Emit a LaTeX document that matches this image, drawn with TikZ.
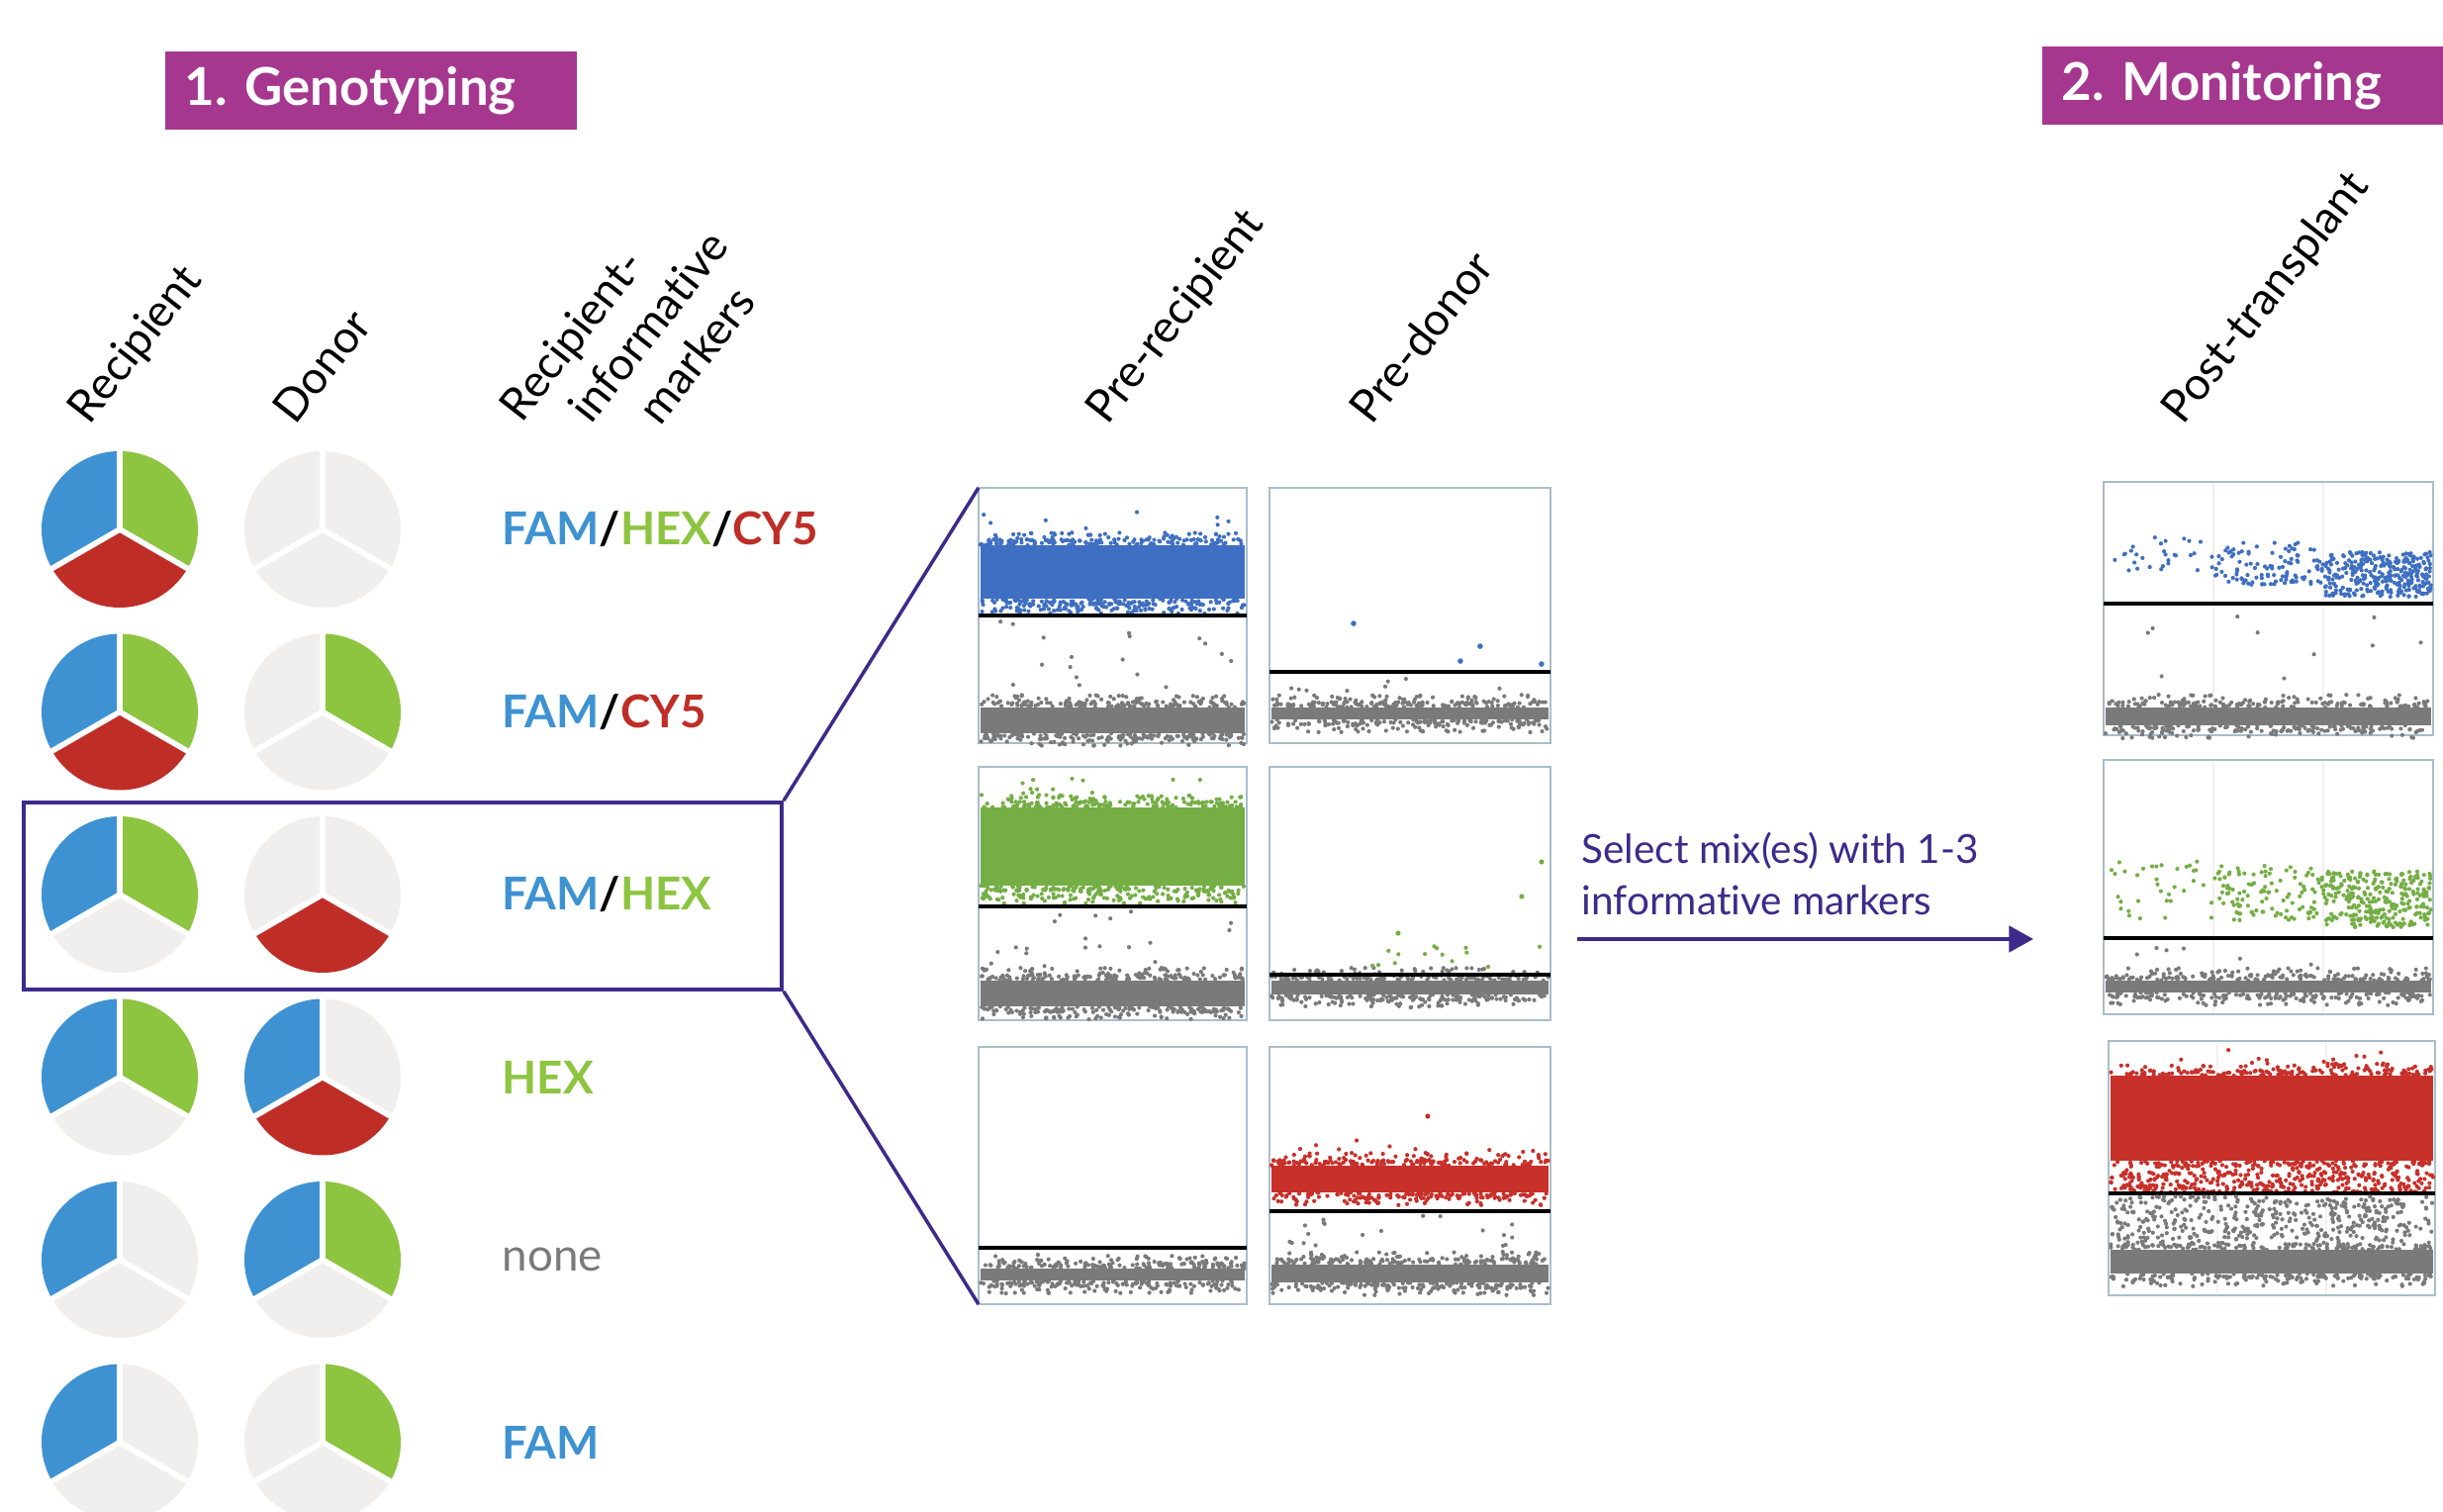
\documentclass[tikz,border=0pt]{standalone}
\usepackage{fontspec}
\setmainfont{Lato}[Ligatures=NoCommon]
\usetikzlibrary{arrows.meta}

\definecolor{famblue}{HTML}{3E92D2}
\definecolor{hexgreen}{HTML}{8DC440}
\definecolor{cyred}{HTML}{BE2E27}
\definecolor{emptyslice}{HTML}{F0EFED}
\definecolor{stepmag}{HTML}{A6378F}
\definecolor{selpurple}{HTML}{3D2A8A}
\definecolor{plotedge}{HTML}{A8BDCB}
\definecolor{dotblue}{HTML}{3F6FC2}
\definecolor{dotgreen}{HTML}{74AE45}
\definecolor{dotred}{HTML}{C8302A}
\definecolor{dotgray}{HTML}{7A7A7A}

% pie: x, y, left, right, bottom slice
\newcommand{\genopie}[5]{%
  \fill[#3] (#1,#2) -- ++(90:79) arc[start angle=90, end angle=210, radius=79] -- cycle;
  \fill[#4] (#1,#2) -- ++(-30:79) arc[start angle=-30, end angle=90, radius=79] -- cycle;
  \fill[#5] (#1,#2) -- ++(210:79) arc[start angle=210, end angle=330, radius=79] -- cycle;
  \draw[white, line width=1.6pt] (#1,#2) -- ++(90:81) (#1,#2) -- ++(210:81) (#1,#2) -- ++(330:81);
}
% random droplets: x0, x1, y0, y1, count, colour
\newcommand{\scat}[6]{%
  \foreach \k in {1,...,#5}{%
    \pgfmathsetmacro{\scx}{#1+rnd*(#2-#1)}%
    \pgfmathsetmacro{\scy}{#3+rnd*(#4-#3)}%
    \fill[#6] (\scx,\scy) circle[radius=2.1];}}
% dense cluster with ragged edges
\newcommand{\band}[5]{%
  \fill[#5] (#1,#3) rectangle (#2,#4);
  \scat{#1}{#2}{#4}{(#4+6)}{120}{#5}
  \scat{#1}{#2}{(#4+5)}{(#4+13)}{50}{#5}
  \scat{#1}{#2}{(#3-6)}{#3}{120}{#5}
  \scat{#1}{#2}{(#3-13)}{(#3-5)}{50}{#5}}

\begin{document}
\begin{tikzpicture}[x=0.01cm, y=0.01cm,
  stepbox/.style={fill=stepmag, text=white, font=\bfseries\fontsize{15}{18}\selectfont,
    inner xsep=0.2cm, minimum height=0.79cm, align=left},
  colhead/.style={rotate=52, anchor=base west, inner sep=0, font=\fontsize{13}{16}\selectfont},
  marker/.style={anchor=west, inner sep=0, font=\bfseries\fontsize{13}{16}\selectfont},
  plotframe/.style={draw=plotedge, line width=0.6pt, inner sep=0, outer sep=0},
  thresh/.style={black, line width=0.9pt},
  selline/.style={draw=selpurple, line width=1pt},
  seltext/.style={text=selpurple, align=left, inner sep=0, anchor=south west,
    font=\fontsize{11.5}{15}\selectfont}]
\pgfmathsetseed{7}
\fill[white] (0,0) rectangle (2469,1528);
\useasboundingbox (0,0) rectangle (2469,1528);

% headings
\node[stepbox, text width=3.76cm] (gen) at (375,1436.5) {1.\ Genotyping};
\node[stepbox, text width=4.2cm, anchor=west] (mon) at (2063,1441.5) {2.\ Monitoring};

\node[colhead] (hdrec) at (90,1097) {Recipient};
\node[colhead] (hddon) at (298,1097) {Donor};
\node[colhead, anchor=north west, align=left] (hdmark) at (500,1120)
  {Recipient-\\\hspace*{0.42cm}informative\\\hspace*{0.84cm}markers};
\node[colhead] (hdprer) at (1119,1097) {Pre-recipient};
\node[colhead] (hdpred) at (1386,1097) {Pre-donor};
\node[colhead] (hdpost) at (2206,1097) {Post-transplant};

% genotypes
\foreach \y/\l/\r/\b in {993/famblue/hexgreen/cyred, 808.5/famblue/hexgreen/cyred,
    624/famblue/hexgreen/emptyslice, 439.5/famblue/hexgreen/emptyslice,
    255/famblue/emptyslice/emptyslice, 70.5/famblue/emptyslice/emptyslice}
  \genopie{121}{\y}{\l}{\r}{\b};
\foreach \y/\l/\r/\b in {993/emptyslice/emptyslice/emptyslice, 808.5/emptyslice/hexgreen/emptyslice,
    624/emptyslice/emptyslice/cyred, 439.5/famblue/emptyslice/cyred,
    255/famblue/hexgreen/emptyslice, 70.5/emptyslice/hexgreen/emptyslice}
  \genopie{326}{\y}{\l}{\r}{\b};

\node[marker] (mk1) at (507,993) {\textcolor{famblue}{FAM}/\textcolor{hexgreen}{HEX}/\textcolor{cyred}{CY5}};
\node[marker] (mk2) at (507,808.5) {\textcolor{famblue}{FAM}/\textcolor{cyred}{CY5}};
\node[marker] (mk3) at (507,624) {\textcolor{famblue}{FAM}/\textcolor{hexgreen}{HEX}};
\node[marker, text=hexgreen] (mk4) at (507,439.5) {HEX};
\node[marker, text=dotgray, font=\fontsize{13}{16}\selectfont] (mk5) at (507,255) {none};
\node[marker, text=famblue] (mk6) at (507,70.5) {FAM};

\node[selline, minimum width=7.66cm, minimum height=1.89cm] (sel) at (407,622.5) {};

% pre-transplant plots
\node[plotframe, minimum width=2.71cm, minimum height=2.58cm] (pA) at (1124.5,906) {};
\node[plotframe, minimum width=2.84cm, minimum height=2.58cm] (pB) at (1425,906) {};
\node[plotframe, minimum width=2.71cm, minimum height=2.56cm] (pC) at (1124.5,625) {};
\node[plotframe, minimum width=2.84cm, minimum height=2.56cm] (pD) at (1425,625) {};
\node[plotframe, minimum width=2.71cm, minimum height=2.60cm] (pE) at (1124.5,340) {};
\node[plotframe, minimum width=2.84cm, minimum height=2.60cm] (pF) at (1425,340) {};

\begin{scope}[shift={(pA.south west)}]
  \band{2}{269}{146}{200}{dotblue}
  \scat{2}{269}{131}{140}{60}{dotblue}
  \scat{5}{265}{212}{235}{10}{dotblue}
  \draw[thresh] (0,129) -- (271,129);
  \scat{10}{260}{52}{125}{18}{dotgray}
  \band{2}{269}{10}{36}{dotgray}
\end{scope}
\begin{scope}[shift={(pB.south west)}]
  \draw[thresh] (0,72) -- (284,72);
  \band{2}{282}{24}{36}{dotgray}
  \scat{20}{270}{52}{66}{8}{dotgray}
  \foreach \dx/\dy in {85/121, 213/98, 193/83, 275/80}
    \fill[dotblue] (\dx,\dy) circle[radius=2.8];
\end{scope}
\begin{scope}[shift={(pC.south west)}]
  \band{2}{269}{136}{215}{dotgreen}
  \scat{2}{269}{118}{128}{60}{dotgreen}
  \scat{5}{265}{228}{248}{12}{dotgreen}
  \draw[thresh] (0,115) -- (271,115);
  \scat{10}{265}{52}{110}{20}{dotgray}
  \band{2}{269}{14}{40}{dotgray}
\end{scope}
\begin{scope}[shift={(pD.south west)}]
  \band{2}{282}{26}{40}{dotgray}
  \draw[thresh] (0,46) -- (284,46);
  \scat{15}{275}{54}{75}{14}{dotgreen}
  \foreach \dx/\dy in {255/125, 275/160, 130/88}
    \fill[dotgreen] (\dx,\dy) circle[radius=2.6];
\end{scope}
\begin{scope}[shift={(pE.south west)}]
  \draw[thresh] (0,57) -- (271,57);
  \band{2}{269}{24}{36}{dotgray}
  \fill[dotgray] (60,50) circle[radius=2.2] (230,44) circle[radius=2.2];
\end{scope}
\begin{scope}[shift={(pF.south west)}]
  \band{2}{282}{113}{140}{dotred}
  \scat{20}{270}{152}{170}{10}{dotred}
  \fill[dotred] (160,190) circle[radius=2.6];
  \draw[thresh] (0,94) -- (284,94);
  \scat{15}{260}{52}{90}{20}{dotgray}
  \band{2}{282}{22}{40}{dotgray}
\end{scope}

\draw[selline] (sel.north east) -- (pA.north west);
\draw[selline] (sel.south east) -- (pE.south west);

% selection arrow
\coordinate (arrS) at (1594,579);
\coordinate (arrE) at (2055,579);
\draw[selline, -{Triangle[length=7pt, width=7.5pt]}] (arrS) -- (arrE);
\node[seltext] (seltxt) at (1598,602) {Select mix(es) with 1-3\\informative markers};

% post-transplant plots
\node[plotframe, minimum width=3.33cm, minimum height=2.56cm] (pG) at (2292.5,913) {};
\node[plotframe, minimum width=3.33cm, minimum height=2.57cm] (pH) at (2292.5,631.5) {};
\node[plotframe, minimum width=3.30cm, minimum height=2.57cm] (pI) at (2296,347.5) {};

\begin{scope}[shift={(pG.south west)}]
  \draw[gray!12] (111,2) -- (111,254) (222,2) -- (222,254);
  \scat{3}{111}{165}{200}{30}{dotblue}
  \scat{111}{222}{152}{195}{110}{dotblue}
  \scat{222}{331}{140}{185}{320}{dotblue}
  \draw[thresh] (0,133) -- (333,133);
  \scat{10}{325}{45}{125}{10}{dotgray}
  \band{2}{331}{10}{28}{dotgray}
\end{scope}
\begin{scope}[shift={(pH.south west)}]
  \draw[gray!12] (111,2) -- (111,255) (222,2) -- (222,255);
  \scat{3}{111}{95}{155}{35}{dotgreen}
  \scat{111}{222}{95}{150}{110}{dotgreen}
  \scat{222}{331}{88}{145}{300}{dotgreen}
  \draw[thresh] (0,77) -- (333,77);
  \scat{10}{325}{50}{70}{6}{dotgray}
  \band{2}{331}{22}{34}{dotgray}
\end{scope}
\begin{scope}[shift={(pI.south west)}]
  \draw[gray!12] (110,2) -- (110,255) (220,2) -- (220,255);
  \band{2}{328}{136}{222}{dotred}
  \scat{5}{320}{234}{250}{12}{dotred}
  \scat{2}{328}{104}{124}{320}{dotred}
  \draw[thresh] (0,103) -- (330,103);
  \scat{2}{328}{58}{100}{380}{dotgray}
  \band{2}{328}{22}{46}{dotgray}
\end{scope}
\end{tikzpicture}
\end{document}
